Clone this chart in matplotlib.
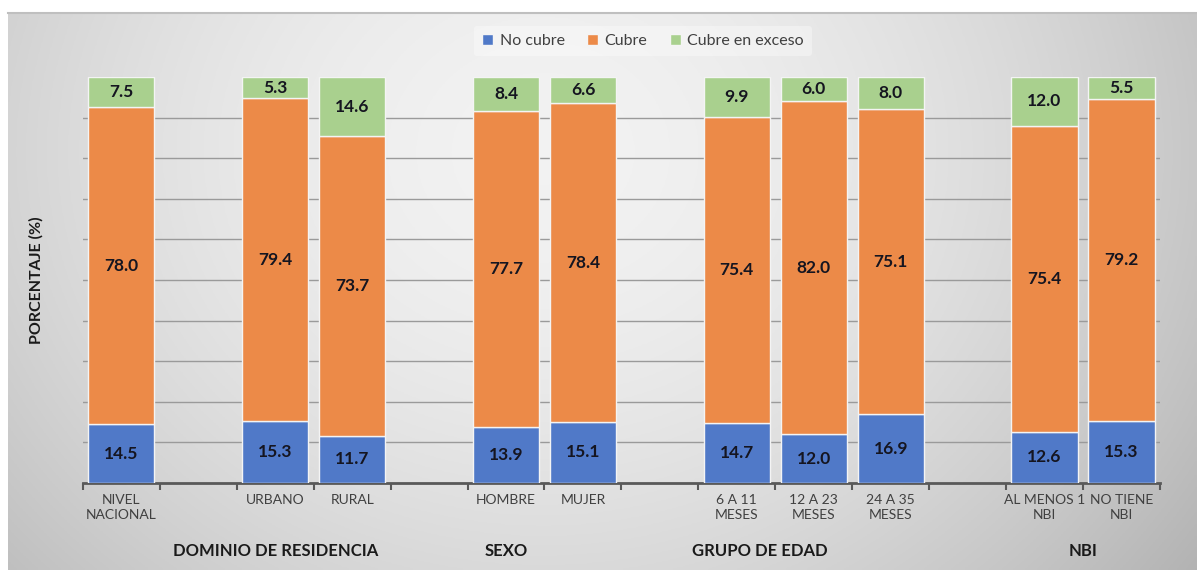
import numpy as np
import matplotlib.pyplot as plt
from matplotlib.transforms import blended_transform_factory

plt.rcParams['font.family'] = ['Lato', 'DejaVu Sans']

# ---- data ----
categorias = ['NIVEL\nNACIONAL', 'URBANO', 'RURAL', 'HOMBRE', 'MUJER',
              '6 A 11\nMESES', '12 A 23\nMESES', '24 A 35\nMESES',
              'AL MENOS 1\nNBI', 'NO TIENE\nNBI']
posiciones = [0, 2, 3, 5, 6, 8, 9, 10, 12, 13]
no_cubre = [14.5, 15.3, 11.7, 13.9, 15.1, 14.7, 12.0, 16.9, 12.6, 15.3]
cubre = [78.0, 79.4, 73.7, 77.7, 78.4, 75.4, 82.0, 75.1, 75.4, 79.2]
cubre_exceso = [7.5, 5.3, 14.6, 8.4, 6.6, 9.9, 6.0, 8.0, 12.0, 5.5]

grupos = ['DOMINIO DE RESIDENCIA', 'SEXO', 'GRUPO DE EDAD', 'NBI']
grupo_pos = [2, 5, 8.3, 12.5]

colores = {'No cubre': '#5079C8', 'Cubre': '#EC8A48', 'Cubre en exceso': '#A9D08E'}

fig = plt.figure(figsize=(11.97, 5.70), dpi=100)

# background gradient (light centre, darker sides)
bg = fig.add_axes([0, 0, 1, 1], zorder=-10)
xx, yy = np.meshgrid(np.linspace(0, 1, 400), np.linspace(0, 1, 200))
r = np.sqrt(((xx - 0.45) / 0.7) ** 2 + ((yy - 0.25) / 1.3) ** 2)
shade = 0.95 - 0.26 * np.clip(r, 0, 1.2) ** 1.8
img = np.dstack([shade, shade, shade])
bg.imshow(img, extent=[0.007, 1, 0, 0.978], aspect='auto', origin='upper')
bg.plot([0.007, 1], [0.978, 0.978], color='#bfbfbf', lw=1.5)
bg.set_xlim(0, 1)
bg.set_ylim(0, 1)
bg.axis('off')

ax = fig.add_axes([0.0693, 0.1526, 0.8997, 0.7124])
ax.patch.set_alpha(0)

w = 0.86
b1 = ax.bar(posiciones, no_cubre, w, color=colores['No cubre'], edgecolor='#f4f4f4',
            linewidth=1, label='No cubre', zorder=3)
bottom2 = np.array(no_cubre)
b2 = ax.bar(posiciones, cubre, w, bottom=bottom2, color=colores['Cubre'],
            edgecolor='#f4f4f4', linewidth=1, label='Cubre', zorder=3)
bottom3 = bottom2 + np.array(cubre)
b3 = ax.bar(posiciones, cubre_exceso, w, bottom=bottom3, color=colores['Cubre en exceso'],
            edgecolor='#f4f4f4', linewidth=1, label='Cubre en exceso', zorder=3)

for bars, vals, bots in [(b1, no_cubre, np.zeros(len(no_cubre))),
                         (b2, cubre, bottom2), (b3, cubre_exceso, bottom3)]:
    for x, v, b in zip(posiciones, vals, bots):
        ax.text(x, b + v / 2, f'{v:.1f}', ha='center', va='center',
                fontsize=12.5, fontweight='bold', color='#151520', zorder=4)

ax.set_xlim(-0.5, 13.5)
ax.set_ylim(0, 100)
ax.set_yticks(np.arange(10, 100, 10))
ax.yaxis.grid(True, color='#9a9a9a', lw=1, zorder=0)
ax.tick_params(axis='y', length=0, labelleft=False)

ax.set_xticks(posiciones)
ax.set_xticklabels(categorias, fontsize=10, color='#404040', linespacing=1.3)
ax.set_xticks(np.arange(-0.5, 14, 1), minor=True)
ax.tick_params(axis='x', which='major', length=0, pad=8)
ax.tick_params(axis='x', which='minor', length=5, width=1.5, color='#595959', direction='out')

for s in ['top', 'right', 'left']:
    ax.spines[s].set_visible(False)
ax.spines['bottom'].set_color('#595959')
ax.spines['bottom'].set_linewidth(2)

trans = blended_transform_factory(ax.transData, ax.transAxes)
for g, gx in zip(grupos, grupo_pos):
    ax.text(gx, -0.167, g, transform=trans, ha='center', va='center',
            fontsize=12, fontweight='bold', color='#1a1a1a')

ax.set_ylabel('PORCENTAJE (%)', fontsize=11.5, fontweight='bold', color='#1a1a1a', labelpad=28)

leg = ax.legend(loc='upper center', bbox_to_anchor=(0.52, 1.145), ncol=3, fontsize=11.5,
                frameon=True, handlelength=0.7, handleheight=0.7, handletextpad=0.4,
                columnspacing=1.4, borderpad=0.5)
leg.get_frame().set_facecolor('white')
leg.get_frame().set_alpha(0.35)
leg.get_frame().set_edgecolor('none')
for t in leg.get_texts():
    t.set_color('#404040')

fig.savefig('out.png', dpi=100)
